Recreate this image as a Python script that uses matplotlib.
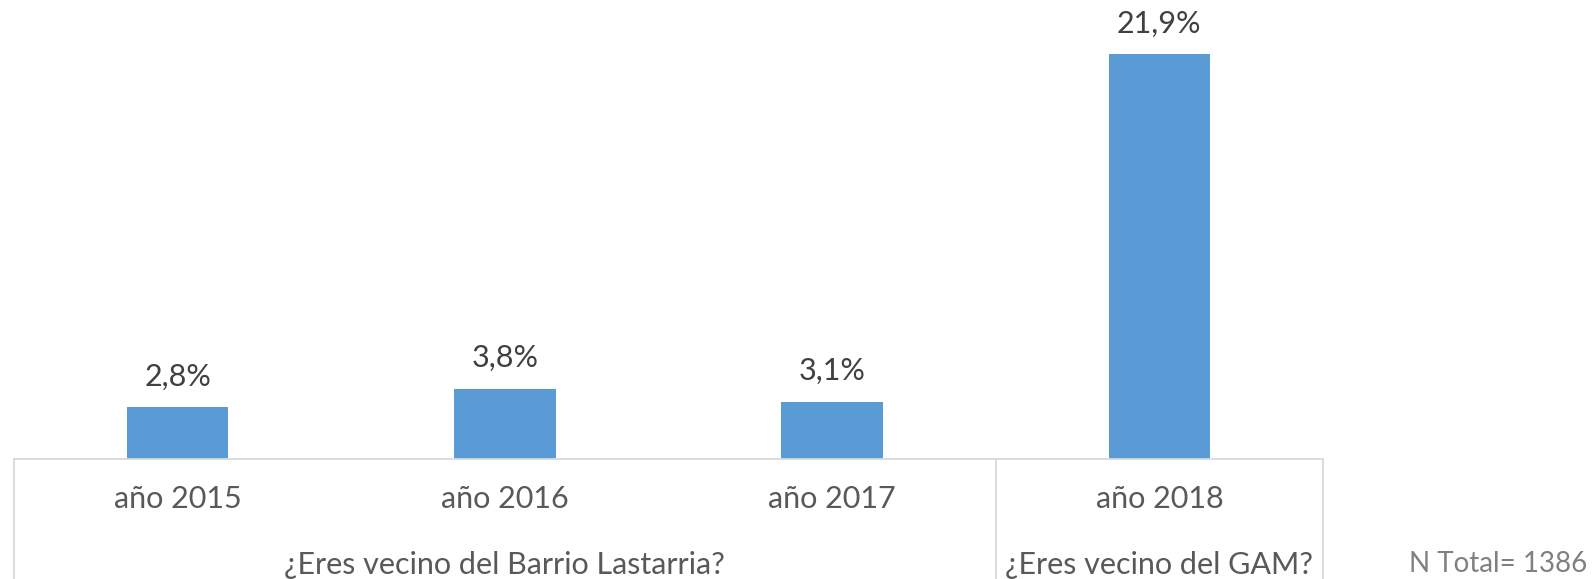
import matplotlib
matplotlib.use("Agg")
import matplotlib.pyplot as plt
from matplotlib.transforms import blended_transform_factory

categories = ["año 2015", "año 2016", "año 2017", "año 2018"]
values = [2.8, 3.8, 3.1, 21.9]
value_labels = ["2,8%", "3,8%", "3,1%", "21,9%"]
groups = ["¿Eres vecino del Barrio Lastarria?", "¿Eres vecino del GAM?"]
group_sizes = [3, 1]
note = "N Total= 1386"

plt.rcParams['font.family'] = ['Lato', 'DejaVu Sans']

W, H = 1593, 579
fig = plt.figure(figsize=(W / 100, H / 100), dpi=100)
ax_left, ax_right, ax_bottom_px = 14, 1323, 459
ax = fig.add_axes([ax_left / W, (H - ax_bottom_px) / H, (ax_right - ax_left) / W, ax_bottom_px / H])

bar_color = "#5b9bd5"
x = list(range(len(categories)))
bars = ax.bar(x, values, width=0.31, color=bar_color)
ax.set_xlim(-0.5, len(categories) - 0.5)
ax.set_ylim(0, 24.82)

for b, lab in zip(bars, value_labels):
    ax.annotate(lab, (b.get_x() + b.get_width() / 2, b.get_height()),
                xytext=(0, 12), textcoords="offset points",
                ha="center", va="bottom", fontsize=22, color="#404040")

ax.set_yticks([])
ax.set_xticks(x)
ax.set_xticklabels(categories, fontsize=22, color="#595959")
ax.tick_params(axis="x", length=0, pad=19)
for s in ["top", "right", "left"]:
    ax.spines[s].set_visible(False)
ax.spines["bottom"].set_color("#d9d9d9")
ax.spines["bottom"].set_linewidth(1.3)

trans = blended_transform_factory(ax.transData, ax.transAxes)
bottom_frac = -(H - ax_bottom_px) / ax_bottom_px
line_kw = dict(color="#d9d9d9", lw=1.3, clip_on=False, transform=trans)
start = -0.5
ax.plot([start, start], [0, bottom_frac], **line_kw)
for g, n in zip(groups, group_sizes):
    end = start + n
    ax.plot([end, end], [0, bottom_frac], **line_kw)
    ax.text((start + end) / 2, -0.232, g, transform=trans, ha="center", va="center",
            fontsize=22, color="#595959")
    start = end

fig.text(1587 / W, 1 - 564 / H, note, ha="right", va="center", fontsize=20, color="#808080")

fig.savefig("out.png", dpi=100)
